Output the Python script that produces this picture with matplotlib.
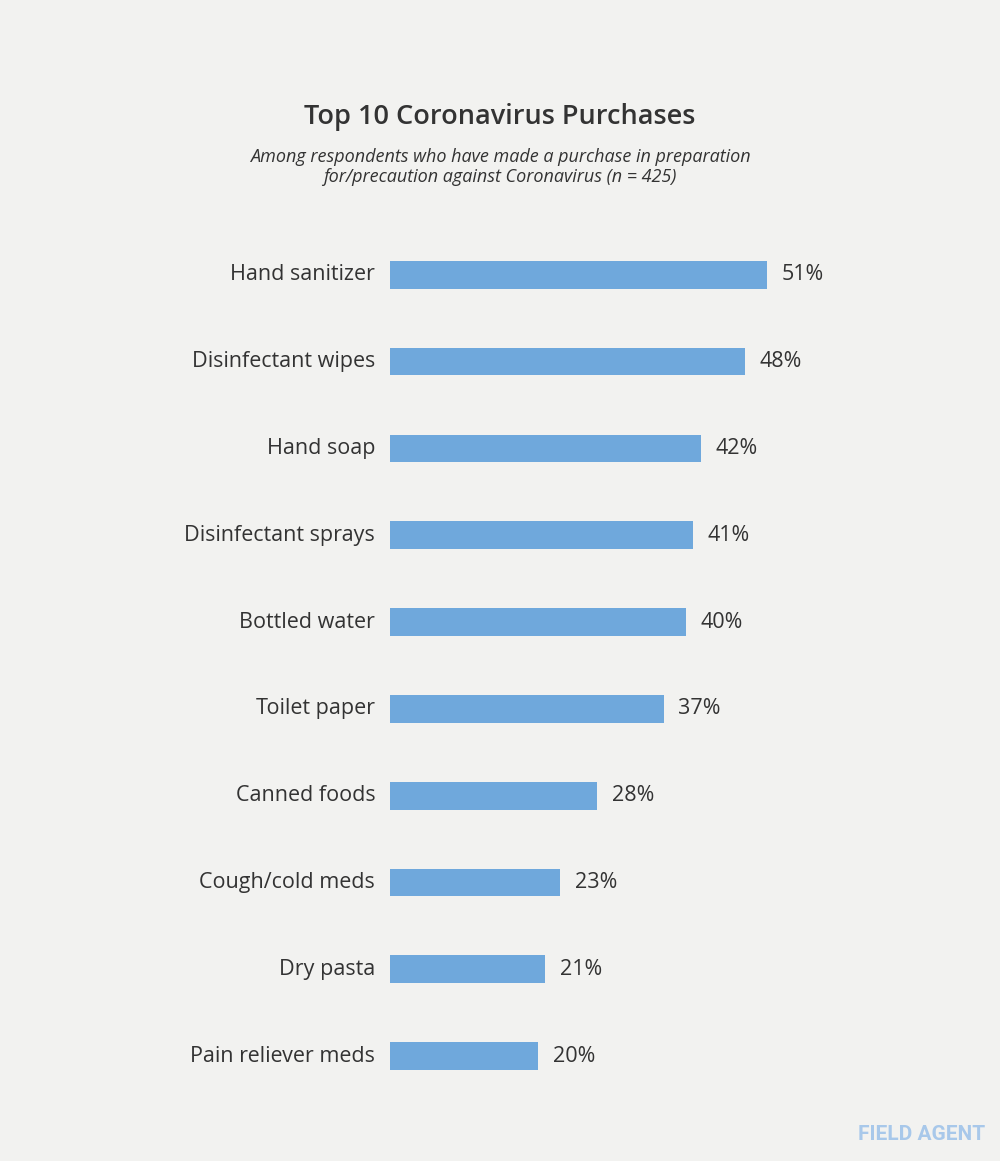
import matplotlib
matplotlib.use("Agg")
import matplotlib.pyplot as plt

categories = ["Hand sanitizer", "Disinfectant wipes", "Hand soap", "Disinfectant sprays",
              "Bottled water", "Toilet paper", "Canned foods", "Cough/cold meds",
              "Dry pasta", "Pain reliever meds"]
values = [51, 48, 42, 41, 40, 37, 28, 23, 21, 20]

fig = plt.figure(figsize=(10, 11.61), dpi=100, facecolor="#f2f2f0")
ax = fig.add_axes([0.39, 0.053, 0.61, 0.7477])
ax.set_facecolor("none")
ypos = list(range(len(categories)))
ax.barh(ypos, values, height=0.32, color="#6fa8dc")
ax.set_ylim(len(categories) - 0.5, -0.5)
ax.set_xlim(0, 82.5)
for y, v, c in zip(ypos, values, categories):
    ax.text(v + 2, y, f"{v}%", va="center", ha="left", fontsize=15.5, color="#333333", family="Open Sans")
    ax.text(-2, y, c, va="center", ha="right", fontsize=15.5, color="#333333", family="Open Sans")
ax.axis("off")

fig.text(0.5, 1 - 117 / 1161, "Top 10 Coronavirus Purchases", ha="center", va="center",
         fontsize=19.5, fontweight="semibold", color="#333333", family="Open Sans")
fig.text(0.5, 1 - 167 / 1161, "Among respondents who have made a purchase in preparation\nfor/precaution against Coronavirus (n = 425)",
         ha="center", va="center", fontsize=13, style="italic", color="#333333", family="Open Sans", linespacing=1.2)
fig.text(0.985, 1 - 1135 / 1161, "FIELD AGENT", ha="right", va="center", fontsize=15,
         fontweight="bold", color="#a8c8ea", family="Roboto")
fig.savefig("out.png", dpi=100, facecolor=fig.get_facecolor())
